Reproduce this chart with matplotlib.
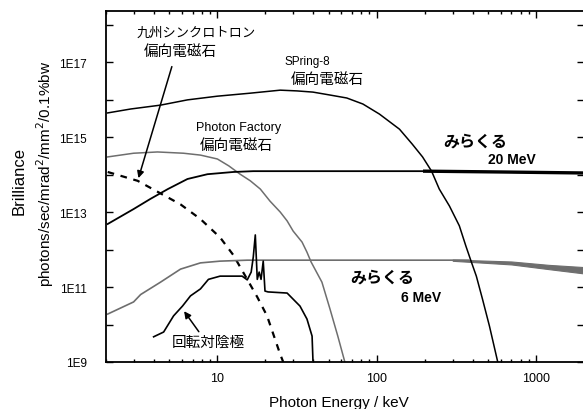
import numpy as np
import matplotlib.pyplot as plt
from matplotlib.ticker import FixedLocator, LogLocator, NullFormatter

JP = ['Noto Sans CJK JP', 'DejaVu Sans']
LAT = ['Liberation Sans', 'DejaVu Sans']

# SPring-8 bending magnet
spring8_E = [2.05, 2.86, 4.4, 6.49, 10, 16.1, 24.8, 31.6, 39.8, 50.9, 64.9, 81.9, 104, 139,
             167, 194, 221, 247, 286, 330, 363, 391, 422, 461, 510, 575]
spring8_B = [4.4e15, 5.6e15, 7.1e15, 9.8e15, 1.23e16, 1.48e16, 1.78e16, 1.7e16, 1.58e16,
             1.32e16, 1.1e16, 7.6e15, 4.1e15, 1.62e15, 6.5e14, 2.95e14, 1.23e14, 4.1e13,
             1.45e13, 4.3e12, 1.23e12, 4.9e11, 1.95e11, 4.8e10, 9.1e9, 1.0e9]

# Photon Factory bending magnet
pf_E = [2.05, 2.98, 4.21, 6.13, 7.83, 10, 11.8, 13.9, 16.1, 18.6, 21.4, 24.8, 27.4, 29.9,
        34.0, 36.5, 38.7, 45.3, 50.9, 57, 63.1]
pf_B = [2.95e14, 3.7e14, 4.0e14, 3.7e14, 3.3e14, 2.6e14, 1.7e14, 1.02e14, 6.8e13, 4.1e13,
        1.95e13, 1.0e13, 5.8e12, 3.1e12, 1.58e12, 8.5e11, 4.7e11, 1.35e11, 2.6e10, 4.9e9, 1.0e9]

# Kyushu synchrotron bending magnet (dashed)
kyu_E = [2.05, 3.16, 5.87, 7.83, 10.4, 12.6, 15.6, 17.8, 20.5, 24.8, 25.9]
kyu_B = [1.17e14, 6.8e13, 1.6e13, 6.5e12, 2.1e12, 7.1e11, 1.45e11, 5.4e10, 1.7e10, 1.6e9, 1.0e9]

# Mirakuru 20 MeV
m20_E = [2.05, 2.98, 3.8, 4.89, 6.49, 8.66, 12.6, 16.8, 215, 600, 2000]
m20_B = [4.8e12, 1.2e13, 2.24e13, 4.1e13, 7.6e13, 1.02e14, 1.17e14, 1.23e14, 1.23e14,
         1.17e14, 1.1e14]
m20_thick_E = [200, 600, 2000]
m20_thick_B = [1.23e14, 1.17e14, 1.1e14]

# Mirakuru 6 MeV
m6_E = [2.05, 2.98, 3.3, 4.4, 5.87, 7.83, 10.4, 15.4, 380]
m6_B = [1.9e10, 4.0e10, 6.3e10, 1.35e11, 3.0e11, 4.4e11, 4.9e11, 5.2e11, 5.2e11]
m6_band_E = [300, 700, 1200, 2000]
m6_band_hi = [5.4e11, 4.8e11, 3.9e11, 3.4e11]
m6_band_lo = [5.0e11, 4.0e11, 3.0e11, 2.3e11]

# rotating anode
ra_E = [3.98, 4.6, 5.31, 6.04, 6.78, 7.83, 8.79, 10.4, 14.3, 15.4, 16.3, 16.8, 17.3, 17.8,
        18.3, 18.8, 19.4, 19.9, 20.8, 27.4, 33.0, 36.5, 39.3, 39.8]
ra_B = [4.7e9, 6.3e9, 1.7e10, 3.1e10, 5.8e10, 8.9e10, 1.6e11, 1.95e11, 1.95e11, 1.55e11,
        2.5e11, 6.3e11, 2.45e12, 1.6e11, 2.5e11, 1.6e11, 4.9e11, 7.8e10, 7.4e10, 6.9e10,
        3.1e10, 1.4e10, 4.9e9, 1.1e9]

ytick_vals = [1e9, 1e10, 1e11, 1e12, 1e13, 1e14, 1e15, 1e16, 1e17, 1e18]
ytick_labels = ['1E9', '', '1E11', '', '1E13', '', '1E15', '', '1E17', '']
xtick_vals = [10, 100, 1000]
xtick_labels = ['10', '100', '1000']

W, H = 583, 410
fig = plt.figure(figsize=(W / 100, H / 100), dpi=100)
ax = fig.add_axes([106 / W, 47 / H, 478 / W, 351 / H])

gray = '#6e6e6e'
ax.plot(spring8_E, spring8_B, color='black', lw=1.1)
ax.plot(pf_E, pf_B, color=gray, lw=1.1)
ax.plot(kyu_E, kyu_B, color='black', lw=1.6, linestyle=(0, (3, 3)))
ax.plot(m20_E, m20_B, color='black', lw=1.3)
ax.plot(m20_thick_E, m20_thick_B, color='black', lw=2.4)
ax.plot(m6_E, m6_B, color=gray, lw=1.2)
ax.fill_between(m6_band_E, m6_band_lo, m6_band_hi, color=gray, lw=0.8, edgecolor=gray)
ax.plot(ra_E, ra_B, color='black', lw=1.2)

ax.set_xscale('log')
ax.set_yscale('log')
ax.set_xlim(2, 2000)
ax.set_ylim(1e9, 2.3e18)

ax.yaxis.set_major_locator(FixedLocator(ytick_vals))
ax.set_yticklabels(ytick_labels, fontfamily=LAT, fontsize=8.5)
ax.yaxis.set_minor_locator(LogLocator(base=10, subs=np.arange(2, 10)))
ax.yaxis.set_minor_formatter(NullFormatter())
ax.xaxis.set_major_locator(FixedLocator(xtick_vals))
ax.set_xticklabels(xtick_labels, fontfamily=LAT, fontsize=9)
ax.xaxis.set_minor_locator(LogLocator(base=10, subs=np.arange(2, 10)))
ax.xaxis.set_minor_formatter(NullFormatter())
ax.tick_params(which='both', direction='in', top=True, right=True, width=1.0)
ax.tick_params(which='major', length=5)
ax.tick_params(which='minor', length=2.5)
ax.tick_params(axis='y', which='major', pad=14)
ax.tick_params(axis='x', which='major', pad=7)
for s in ax.spines.values():
    s.set_linewidth(1.3)


def px(x, y):
    return x / W, 1 - y / H


def label(x, y, s, fam, size, weight='normal'):
    fig.text(*px(x, y), s, ha='center', va='center', fontfamily=fam, fontsize=size,
             fontweight=weight)


label(196, 33, '九州シンクロトロン', JP, 9.5)
label(180, 52, '偏向電磁石', JP, 10.5)
label(307, 62, 'SPring-8', LAT, 8.5)
label(327, 80, '偏向電磁石', JP, 10.5)
label(239, 128, 'Photon Factory', LAT, 9)
label(236, 146, '偏向電磁石', JP, 10.5)
label(475, 142, 'みらくる', JP, 11.5, 'bold')
label(512, 160, '20 MeV', LAT, 10, 'bold')
label(382, 278, 'みらくる', JP, 11.5, 'bold')
label(421, 298, '6 MeV', LAT, 10, 'bold')
label(208, 343, '回転対陰極', JP, 10.5)

ax.annotate('', xy=(3.16, 6.8e13), xytext=(5.24, 8.9e16),
            arrowprops=dict(arrowstyle='-|>', color='black', lw=1.1, mutation_scale=10))
ax.annotate('', xy=(6.04, 2.6e10), xytext=(7.83, 5.6e9),
            arrowprops=dict(arrowstyle='-|>', color='black', lw=1.1, mutation_scale=10))

fig.text(*px(339, 403), 'Photon Energy / keV', ha='center', va='center', fontfamily=LAT, fontsize=11)
fig.text(*px(19, 181), 'Brilliance', ha='center', va='center', rotation=90, fontfamily=LAT, fontsize=12)
fig.text(*px(45, 174), r'photons/sec/mrad$^2$/mm$^2$/0.1%bw', ha='center', va='center',
         rotation=90, fontfamily=LAT, fontsize=11)

fig.savefig('out.png', dpi=100)
